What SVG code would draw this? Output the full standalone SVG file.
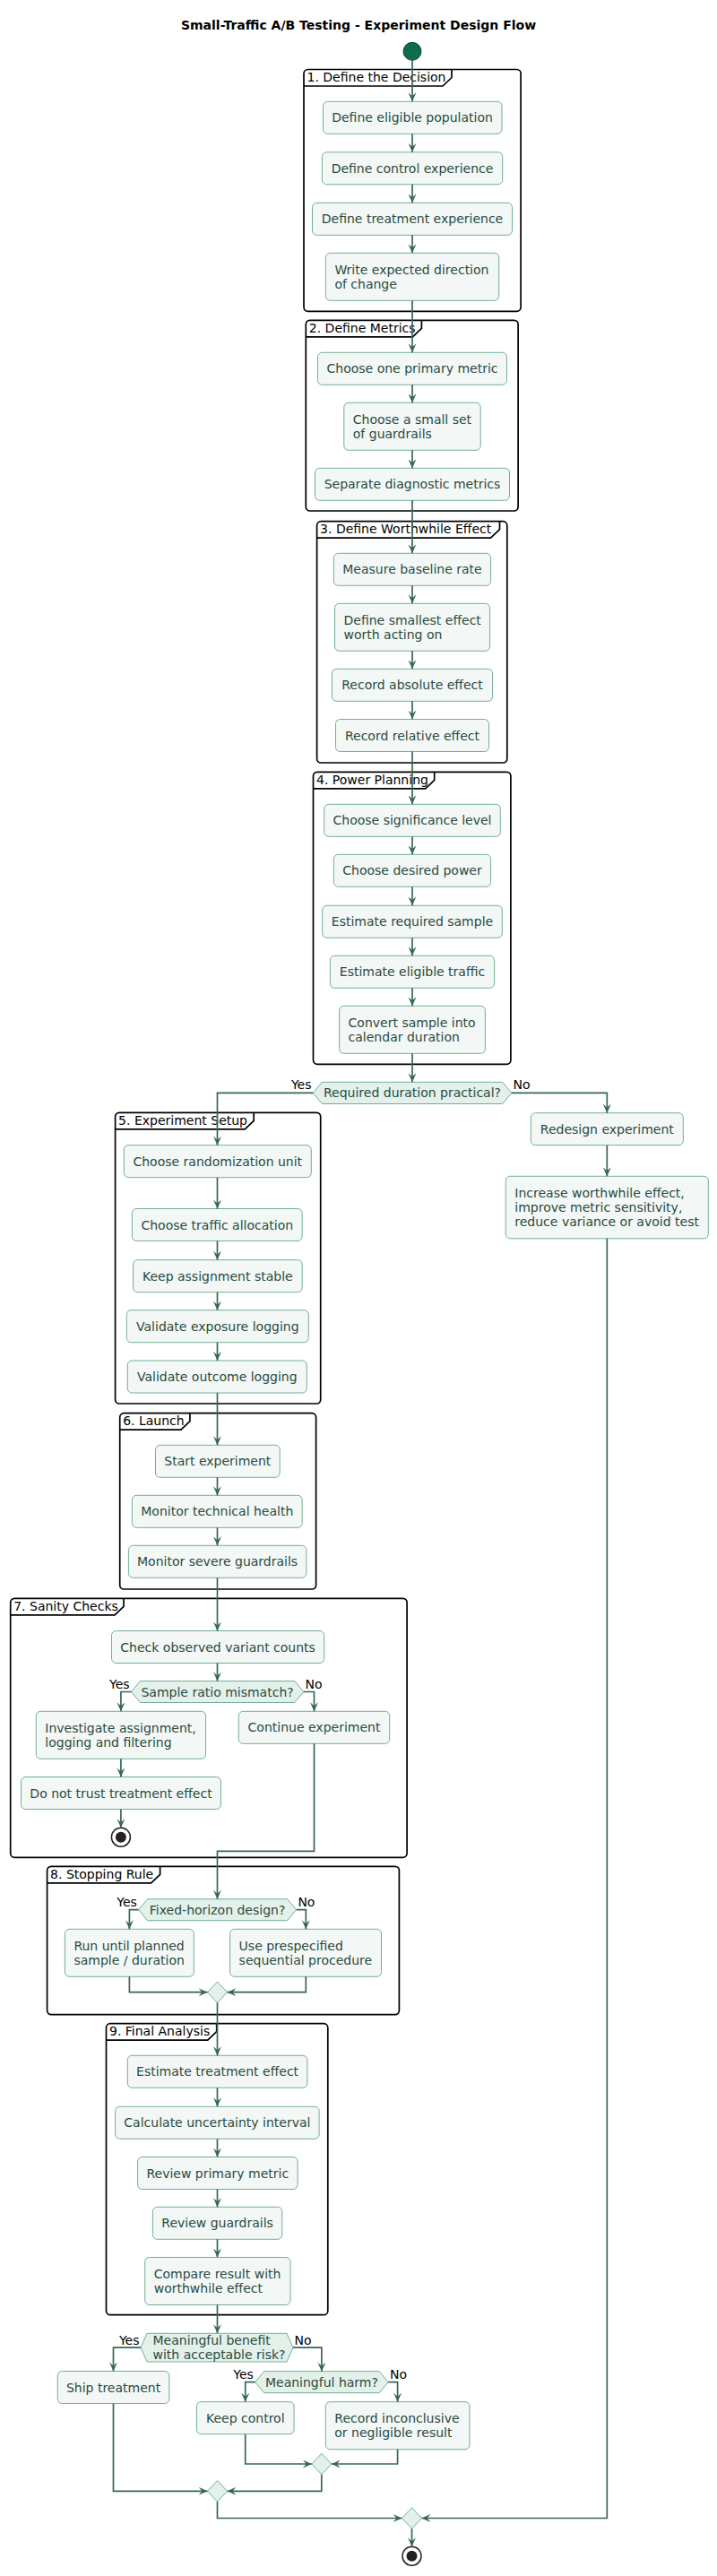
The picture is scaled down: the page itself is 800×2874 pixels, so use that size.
<svg xmlns="http://www.w3.org/2000/svg" width="800" height="2874" viewBox="0 0 800 2874">
<defs>
<style>
.bg{fill:#ffffff}
.box{fill:#f3f8f6;stroke:#72ae97;stroke-width:1}
.dec{fill:#e4f1eb;stroke:#72ae97;stroke-width:1}
.txt{font-family:"DejaVu Sans","Liberation Sans",sans-serif;font-size:14px;fill:#2a4a3f}
.lbl{font-family:"DejaVu Sans","Liberation Sans",sans-serif;font-size:14px;fill:#000000}
.ttl{font-family:"DejaVu Sans","Liberation Sans",sans-serif;font-size:14px;font-weight:bold;fill:#000000}
.part{fill:none;stroke:#000000;stroke-width:1.7}
.edge{fill:none;stroke:#386754;stroke-width:1.7}
.mid{text-anchor:middle}
.end{text-anchor:end}
.stopo{fill:#ffffff;stroke:#222222;stroke-width:1.5}
.stopi{fill:#222222}
</style>
<marker id="ah" viewBox="-10 -4.5 10 9" refX="0" refY="0" markerWidth="10" markerHeight="9" markerUnits="userSpaceOnUse" orient="auto"><path d="M0,0 L-10,-4.5 L-6,0 L-10,4.5 Z" fill="#386754"/></marker>
</defs>
<rect class="bg" x="0" y="0" width="800" height="2874"/>
<text class="ttl mid" x="400" y="33">Small-Traffic A/B Testing - Experiment Design Flow</text>

<g id="partitions">
<g id="p1"><rect class="part" x="339" y="77.5" width="242.1" height="269.8" rx="4.5"/><path class="part" d="M339,96 L494,96 L504,86.5 L504,77.5"/><text class="lbl" x="342.5" y="91">1. Define the Decision</text></g>
<g id="p2"><rect class="part" x="341.3" y="357.3" width="236.8" height="212.7" rx="4.5"/><path class="part" d="M341.3,375.8 L460.4,375.8 L470.4,366.3 L470.4,357.3"/><text class="lbl" x="344.8" y="370.8">2. Define Metrics</text></g>
<g id="p3"><rect class="part" x="353.6" y="581.7" width="212.2" height="269.3" rx="4.5"/><path class="part" d="M353.6,600.2 L547.5,600.2 L557.5,590.7 L557.5,581.7"/><text class="lbl" x="357.1" y="595.2">3. Define Worthwhile Effect</text></g>
<g id="p4"><rect class="part" x="349.5" y="861.3" width="220.4" height="326" rx="4.5"/><path class="part" d="M349.5,879.8 L474.7,879.8 L484.7,870.3 L484.7,861.3"/><text class="lbl" x="353" y="874.8">4. Power Planning</text></g>
<g id="p5"><rect class="part" x="128.6" y="1241.3" width="229.1" height="324.7" rx="4.5"/><path class="part" d="M128.6,1259.8 L273.2,1259.8 L283.2,1250.3 L283.2,1241.3"/><text class="lbl" x="132.1" y="1254.8">5. Experiment Setup</text></g>
<g id="p6"><rect class="part" x="133.7" y="1576.7" width="218.9" height="196.3" rx="4.5"/><path class="part" d="M133.7,1595.2 L201.9,1595.2 L211.9,1585.7 L211.9,1576.7"/><text class="lbl" x="137.2" y="1590.2">6. Launch</text></g>
<g id="p7"><rect class="part" x="11.7" y="1783.3" width="442.4" height="289" rx="4.5"/><path class="part" d="M11.7,1801.8 L128,1801.8 L138,1792.3 L138,1783.3"/><text class="lbl" x="15.2" y="1796.8">7. Sanity Checks</text></g>
<g id="p8"><rect class="part" x="52.6" y="2082.3" width="392.8" height="165.3" rx="4.5"/><path class="part" d="M52.6,2100.8 L168.6,2100.8 L178.6,2091.3 L178.6,2082.3"/><text class="lbl" x="56.1" y="2095.8">8. Stopping Rule</text></g>
<g id="p9"><rect class="part" x="118.5" y="2257.7" width="247.3" height="325" rx="4.5"/><path class="part" d="M118.5,2276.2 L231.7,2276.2 L241.7,2266.7 L241.7,2257.7"/><text class="lbl" x="122" y="2271.2">9. Final Analysis</text></g>
</g>

<g id="start"><circle cx="460" cy="57.3" r="10" fill="#0b6e4f" stroke="#1a3d31" stroke-width="1"/></g>

<g id="n1"><rect class="box" x="360.5" y="113.3" width="199.5" height="36" rx="5"/><text class="txt mid" x="460" y="136.3">Define eligible population</text></g>
<g id="n2"><rect class="box" x="359.4" y="169.8" width="201.3" height="36" rx="5"/><text class="txt mid" x="460" y="192.8">Define control experience</text></g>
<g id="n3"><rect class="box" x="348.5" y="226.3" width="223" height="36" rx="5"/><text class="txt mid" x="460" y="249.3">Define treatment experience</text></g>
<g id="n4"><rect class="box" x="363.4" y="282.3" width="193.3" height="53" rx="5"/><text class="txt" x="373.4" y="305.7">Write expected direction<tspan x="373.4" y="322">of change</tspan></text></g>
<g id="n5"><rect class="box" x="354.5" y="393.3" width="211" height="36" rx="5"/><text class="txt mid" x="460" y="416.3">Choose one primary metric</text></g>
<g id="n6"><rect class="box" x="383.8" y="449.3" width="152.4" height="53" rx="5"/><text class="txt" x="393.8" y="472.7">Choose a small set<tspan x="393.8" y="489">of guardrails</tspan></text></g>
<g id="n7"><rect class="box" x="351.5" y="522.3" width="217" height="36" rx="5"/><text class="txt mid" x="460" y="545.3">Separate diagnostic metrics</text></g>
<g id="n8"><rect class="box" x="372.4" y="617.3" width="175.2" height="36" rx="5"/><text class="txt mid" x="460" y="640.3">Measure baseline rate</text></g>
<g id="n9"><rect class="box" x="373.5" y="673.3" width="173" height="53" rx="5"/><text class="txt" x="383.5" y="696.7">Define smallest effect<tspan x="383.5" y="713">worth acting on</tspan></text></g>
<g id="n10"><rect class="box" x="370.4" y="746.3" width="179.2" height="36" rx="5"/><text class="txt mid" x="460" y="769.3">Record absolute effect</text></g>
<g id="n11"><rect class="box" x="374.5" y="802.5" width="171" height="36" rx="5"/><text class="txt mid" x="460" y="825.5">Record relative effect</text></g>
<g id="n12"><rect class="box" x="361.7" y="897.3" width="196.6" height="36" rx="5"/><text class="txt mid" x="460" y="920.3">Choose significance level</text></g>
<g id="n13"><rect class="box" x="372.4" y="953.3" width="175.2" height="36" rx="5"/><text class="txt mid" x="460" y="976.3">Choose desired power</text></g>
<g id="n14"><rect class="box" x="359.7" y="1010.3" width="200.6" height="36" rx="5"/><text class="txt mid" x="460" y="1033.3">Estimate required sample</text></g>
<g id="n15"><rect class="box" x="368.4" y="1066.3" width="183.2" height="36" rx="5"/><text class="txt mid" x="460" y="1089.3">Estimate eligible traffic</text></g>
<g id="n16"><rect class="box" x="378.6" y="1122.3" width="162.8" height="53" rx="5"/><text class="txt" x="388.6" y="1145.7">Convert sample into<tspan x="388.6" y="1162">calendar duration</tspan></text></g>
<g id="d1"><polygon class="dec" points="349.3,1219.4 359.3,1207.3 560.7,1207.3 570.7,1219.4 560.7,1231.5 359.3,1231.5"/><text class="txt mid" x="460" y="1224.4">Required duration practical?</text><text class="lbl end" x="347.5" y="1215.4">Yes</text><text class="lbl" x="572.5" y="1215.4">No</text></g>
<g id="n17"><rect class="box" x="592.3" y="1241.7" width="170" height="36" rx="5"/><text class="txt mid" x="677.3" y="1264.7">Redesign experiment</text></g>
<g id="n18"><rect class="box" x="564.3" y="1312.3" width="226" height="69.5" rx="5"/><text class="txt" x="574.3" y="1335.7">Increase worthwhile effect,<tspan x="574.3" y="1352">improve metric sensitivity,</tspan><tspan x="574.3" y="1368.3">reduce variance or avoid test</tspan></text></g>
<g id="n19"><rect class="box" x="138.3" y="1277.7" width="209" height="36" rx="5"/><text class="txt mid" x="242.8" y="1300.7">Choose randomization unit</text></g>
<g id="n20"><rect class="box" x="147.4" y="1348.5" width="189.8" height="36" rx="5"/><text class="txt mid" x="242.3" y="1371.5">Choose traffic allocation</text></g>
<g id="n21"><rect class="box" x="148.5" y="1405.7" width="188.7" height="36" rx="5"/><text class="txt mid" x="242.8" y="1428.7">Keep assignment stable</text></g>
<g id="n22"><rect class="box" x="141.3" y="1461.7" width="203" height="36" rx="5"/><text class="txt mid" x="242.8" y="1484.7">Validate exposure logging</text></g>
<g id="n23"><rect class="box" x="142.3" y="1518" width="200" height="36" rx="5"/><text class="txt mid" x="242.3" y="1541">Validate outcome logging</text></g>
<g id="n24"><rect class="box" x="173.5" y="1612.3" width="138.7" height="36" rx="5"/><text class="txt mid" x="242.8" y="1635.3">Start experiment</text></g>
<g id="n25"><rect class="box" x="147.4" y="1668.3" width="189.8" height="36" rx="5"/><text class="txt mid" x="242.3" y="1691.3">Monitor technical health</text></g>
<g id="n26"><rect class="box" x="143.4" y="1724.3" width="198.4" height="36" rx="5"/><text class="txt mid" x="242.6" y="1747.3">Monitor severe guardrails</text></g>
<g id="n27"><rect class="box" x="124.5" y="1819.5" width="237.2" height="36" rx="5"/><text class="txt mid" x="243.1" y="1842.5">Check observed variant counts</text></g>
<g id="d2"><polygon class="dec" points="146.4,1887.5 156.4,1875.5 328.8,1875.5 338.8,1887.5 328.8,1899.5 156.4,1899.5"/><text class="txt mid" x="242.6" y="1892.5">Sample ratio mismatch?</text><text class="lbl end" x="144.6" y="1883.5">Yes</text><text class="lbl" x="340.6" y="1883.5">No</text></g>
<g id="n28"><rect class="box" x="40.3" y="1909.3" width="189.3" height="53" rx="5"/><text class="txt" x="50.3" y="1932.7">Investigate assignment,<tspan x="50.3" y="1949">logging and filtering</tspan></text></g>
<g id="n29"><rect class="box" x="266.3" y="1909.3" width="168.4" height="36" rx="5"/><text class="txt mid" x="350.5" y="1932.3">Continue experiment</text></g>
<g id="n30"><rect class="box" x="23.5" y="1982.5" width="222.9" height="36" rx="5"/><text class="txt mid" x="135" y="2005.5">Do not trust treatment effect</text></g>
<g id="stop1"><circle class="stopo" cx="134.9" cy="2049.7" r="10.5"/><circle class="stopi" cx="134.9" cy="2049.7" r="6"/></g>
<g id="d3"><polygon class="dec" points="154.6,2130.7 164.6,2118.7 320.6,2118.7 330.6,2130.7 320.6,2142.7 164.6,2142.7"/><text class="txt mid" x="242.6" y="2135.7">Fixed-horizon design?</text><text class="lbl end" x="152.8" y="2126.7">Yes</text><text class="lbl" x="332.4" y="2126.7">No</text></g>
<g id="n31"><rect class="box" x="72.4" y="2152.3" width="143.9" height="53" rx="5"/><text class="txt" x="82.4" y="2175.7">Run until planned<tspan x="82.4" y="2192">sample / duration</tspan></text></g>
<g id="n32"><rect class="box" x="256.6" y="2152.3" width="168.9" height="53" rx="5"/><text class="txt" x="266.6" y="2175.7">Use prespecified<tspan x="266.6" y="2192">sequential procedure</tspan></text></g>
<g id="m1"><polygon class="dec" points="242.5,2211 253.5,2222.7 242.5,2234.4 231.5,2222.7"/></g>
<g id="n33"><rect class="box" x="142.3" y="2293.3" width="200.6" height="36" rx="5"/><text class="txt mid" x="242.6" y="2316.3">Estimate treatment effect</text></g>
<g id="n34"><rect class="box" x="128.6" y="2350.3" width="227.5" height="36" rx="5"/><text class="txt mid" x="242.4" y="2373.3">Calculate uncertainty interval</text></g>
<g id="n35"><rect class="box" x="153.6" y="2406.5" width="178.5" height="36" rx="5"/><text class="txt mid" x="242.8" y="2429.5">Review primary metric</text></g>
<g id="n36"><rect class="box" x="170.4" y="2462.3" width="144.4" height="36" rx="5"/><text class="txt mid" x="242.6" y="2485.3">Review guardrails</text></g>
<g id="n37"><rect class="box" x="161.7" y="2518.5" width="162.3" height="53" rx="5"/><text class="txt" x="171.7" y="2541.9">Compare result with<tspan x="171.7" y="2558.2">worthwhile effect</tspan></text></g>
<g id="d4"><polygon class="dec" points="157,2619.2 164,2603.3 320,2603.3 327,2619.2 320,2635 164,2635"/><text class="txt" x="170.5" y="2616">Meaningful benefit<tspan x="170.5" y="2632.3">with acceptable risk?</tspan></text><text class="lbl end" x="155.5" y="2615.5">Yes</text><text class="lbl" x="328.5" y="2615.5">No</text></g>
<g id="n38"><rect class="box" x="64.3" y="2645.5" width="124.5" height="36" rx="5"/><text class="txt mid" x="126.55" y="2668.5">Ship treatment</text></g>
<g id="d5"><polygon class="dec" points="284.7,2657.7 294.7,2645.7 423.2,2645.7 433.2,2657.7 423.2,2669.7 294.7,2669.7"/><text class="txt mid" x="358.95" y="2662.7">Meaningful harm?</text><text class="lbl end" x="282.9" y="2653.7">Yes</text><text class="lbl" x="435" y="2653.7">No</text></g>
<g id="n39"><rect class="box" x="219.4" y="2679.7" width="108.7" height="36" rx="5"/><text class="txt mid" x="273.75" y="2702.7">Keep control</text></g>
<g id="n40"><rect class="box" x="363.3" y="2679.7" width="160.7" height="53" rx="5"/><text class="txt" x="373.3" y="2703.1">Record inconclusive<tspan x="373.3" y="2719.4">or negligible result</tspan></text></g>
<g id="m2"><polygon class="dec" points="358.8,2737.3 369.8,2749 358.8,2760.7 347.8,2749"/></g>
<g id="m3"><polygon class="dec" points="242.5,2767.6 253.5,2779.3 242.5,2791 231.5,2779.3"/></g>
<g id="m4"><polygon class="dec" points="459.5,2797.8 470.5,2809.5 459.5,2821.2 448.5,2809.5"/></g>
<g id="end"><circle class="stopo" cx="459.5" cy="2851.7" r="10.5"/><circle class="stopi" cx="459.5" cy="2851.7" r="6"/></g>

<g id="connectors">
<path class="edge" marker-end="url(#ah)" d="M460,67.3 L460,113.3"/>
<path class="edge" marker-end="url(#ah)" d="M460,149.3 L460,169.8"/>
<path class="edge" marker-end="url(#ah)" d="M460,205.8 L460,226.3"/>
<path class="edge" marker-end="url(#ah)" d="M460,262.3 L460,282.3"/>
<path class="edge" marker-end="url(#ah)" d="M460,335.3 L460,393.3"/>
<path class="edge" marker-end="url(#ah)" d="M460,429.3 L460,449.3"/>
<path class="edge" marker-end="url(#ah)" d="M460,502.3 L460,522.3"/>
<path class="edge" marker-end="url(#ah)" d="M460,558.3 L460,617.3"/>
<path class="edge" marker-end="url(#ah)" d="M460,653.3 L460,673.3"/>
<path class="edge" marker-end="url(#ah)" d="M460,726.3 L460,746.3"/>
<path class="edge" marker-end="url(#ah)" d="M460,782.3 L460,802.5"/>
<path class="edge" marker-end="url(#ah)" d="M460,838.5 L460,897.3"/>
<path class="edge" marker-end="url(#ah)" d="M460,933.3 L460,953.3"/>
<path class="edge" marker-end="url(#ah)" d="M460,989.3 L460,1010.3"/>
<path class="edge" marker-end="url(#ah)" d="M460,1046.3 L460,1066.3"/>
<path class="edge" marker-end="url(#ah)" d="M460,1102.3 L460,1122.3"/>
<path class="edge" marker-end="url(#ah)" d="M460,1175.3 L460,1207.3"/>
<path class="edge" marker-end="url(#ah)" d="M349.3,1219.4 L242.5,1219.4 L242.5,1277.7"/>
<path class="edge" marker-end="url(#ah)" d="M570.7,1219.4 L677.3,1219.4 L677.3,1241.7"/>
<path class="edge" marker-end="url(#ah)" d="M677.3,1277.7 L677.3,1312.3"/>
<path class="edge" marker-end="url(#ah)" d="M677.3,1381.8 L677.3,2809.5 L470.5,2809.5"/>
<path class="edge" marker-end="url(#ah)" d="M242.5,1313.7 L242.5,1348.5"/>
<path class="edge" marker-end="url(#ah)" d="M242.5,1384.5 L242.5,1405.7"/>
<path class="edge" marker-end="url(#ah)" d="M242.5,1441.7 L242.5,1461.7"/>
<path class="edge" marker-end="url(#ah)" d="M242.5,1497.7 L242.5,1518"/>
<path class="edge" marker-end="url(#ah)" d="M242.5,1554 L242.5,1612.3"/>
<path class="edge" marker-end="url(#ah)" d="M242.5,1648.3 L242.5,1668.3"/>
<path class="edge" marker-end="url(#ah)" d="M242.5,1704.3 L242.5,1724.3"/>
<path class="edge" marker-end="url(#ah)" d="M242.5,1760.3 L242.5,1819.5"/>
<path class="edge" marker-end="url(#ah)" d="M242.5,1855.5 L242.5,1875.5"/>
<path class="edge" marker-end="url(#ah)" d="M146.4,1887.5 L134.9,1887.5 L134.9,1909.3"/>
<path class="edge" marker-end="url(#ah)" d="M338.8,1887.5 L350.5,1887.5 L350.5,1909.3"/>
<path class="edge" marker-end="url(#ah)" d="M134.9,1962.3 L134.9,1982.5"/>
<path class="edge" marker-end="url(#ah)" d="M134.9,2018.5 L134.9,2039.2"/>
<path class="edge" marker-end="url(#ah)" d="M350.5,1945.3 L350.5,2065.3 L242.5,2065.3 L242.5,2118.7"/>
<path class="edge" marker-end="url(#ah)" d="M154.6,2130.7 L144.4,2130.7 L144.4,2152.3"/>
<path class="edge" marker-end="url(#ah)" d="M330.6,2130.7 L341.3,2130.7 L341.3,2152.3"/>
<path class="edge" marker-end="url(#ah)" d="M144.4,2205.3 L144.4,2222.7 L231.5,2222.7"/>
<path class="edge" marker-end="url(#ah)" d="M341.3,2205.3 L341.3,2222.7 L253.5,2222.7"/>
<path class="edge" marker-end="url(#ah)" d="M242.5,2234.4 L242.5,2293.3"/>
<path class="edge" marker-end="url(#ah)" d="M242.5,2329.3 L242.5,2350.3"/>
<path class="edge" marker-end="url(#ah)" d="M242.5,2386.3 L242.5,2406.5"/>
<path class="edge" marker-end="url(#ah)" d="M242.5,2442.5 L242.5,2462.3"/>
<path class="edge" marker-end="url(#ah)" d="M242.5,2498.3 L242.5,2518.5"/>
<path class="edge" marker-end="url(#ah)" d="M242.5,2571.5 L242.5,2603.3"/>
<path class="edge" marker-end="url(#ah)" d="M157,2619.2 L126.5,2619.2 L126.5,2645.5"/>
<path class="edge" marker-end="url(#ah)" d="M327,2619.2 L358.9,2619.2 L358.9,2645.7"/>
<path class="edge" marker-end="url(#ah)" d="M284.7,2657.7 L273.7,2657.7 L273.7,2679.7"/>
<path class="edge" marker-end="url(#ah)" d="M433.2,2657.7 L443.6,2657.7 L443.6,2679.7"/>
<path class="edge" marker-end="url(#ah)" d="M273.7,2715.7 L273.7,2749 L347.8,2749"/>
<path class="edge" marker-end="url(#ah)" d="M443.6,2732.7 L443.6,2749 L369.8,2749"/>
<path class="edge" marker-end="url(#ah)" d="M358.8,2760.7 L358.8,2779.3 L253.5,2779.3"/>
<path class="edge" marker-end="url(#ah)" d="M126.5,2681.5 L126.5,2779.3 L231.5,2779.3"/>
<path class="edge" marker-end="url(#ah)" d="M242.5,2791 L242.5,2809.5 L448.5,2809.5"/>
<path class="edge" marker-end="url(#ah)" d="M459.5,2821.2 L459.5,2841.2"/>
</g>
</svg>
